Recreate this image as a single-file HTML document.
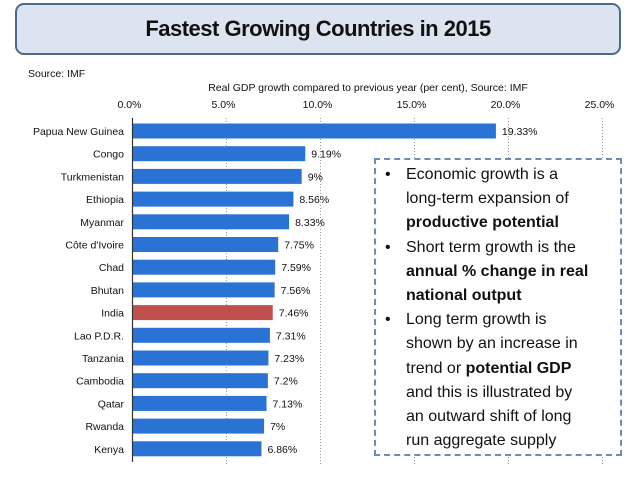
<!DOCTYPE html>
<html><head><meta charset="utf-8"><style>
body{margin:0;width:638px;height:479px;background:#fff;font-family:"Liberation Sans",sans-serif;overflow:hidden;position:relative}
#title{position:absolute;left:15px;top:3px;width:606px;height:52px;box-sizing:border-box;border:2px solid #4d6a8c;border-radius:9px;background:#dbe4f0;text-align:center;line-height:48px;font-size:22px;font-weight:bold;color:#111;letter-spacing:-0.5px}
#note{position:absolute;left:374px;top:158px;width:248px;height:298px;box-sizing:border-box;border:2px dashed #6b8db5;background:#fff;font-size:16px;line-height:24.2px;color:#111;padding:3px 4px 0 30px;white-space:nowrap}
#note div{position:relative}
#note div:before{content:"•";position:absolute;left:-21px}
</style></head><body>
<div id="title">Fastest Growing Countries in 2015</div>
<svg id="chart" width="638" height="479" style="position:absolute;left:0;top:0"></svg>
<div id="note">
<div>Economic growth is a<br>long-term expansion of<br><b>productive potential</b></div>
<div>Short term growth is the<br><b>annual % change in real<br>national output</b></div>
<div>Long term growth is<br>shown by an increase in<br>trend or <b>potential GDP</b><br>and this is illustrated by<br>an outward shift of long<br>run aggregate supply</div>
</div>
<script>
const categories=["Papua New Guinea","Congo","Turkmenistan","Ethiopia","Myanmar","Côte d'Ivoire","Chad","Bhutan","India","Lao P.D.R.","Tanzania","Cambodia","Qatar","Rwanda","Kenya"];
const values=[19.33,9.19,9,8.56,8.33,7.75,7.59,7.56,7.46,7.31,7.23,7.2,7.13,7,6.86];
const valueLabels=["19.33%","9.19%","9%","8.56%","8.33%","7.75%","7.59%","7.56%","7.46%","7.31%","7.23%","7.2%","7.13%","7%","6.86%"];
const ticks=[0,5,10,15,20,25];
const tickLabels=["0.0%","5.0%","10.0%","15.0%","20.0%","25.0%"];
const highlight="India";
const svg=document.getElementById('chart');const NS="http://www.w3.org/2000/svg";
const x=v=>132.5+v*18.8;
const y=i=>131+i*22.7;
function el(t,a,txt){const e=document.createElementNS(NS,t);for(const k in a)e.setAttribute(k,a[k]);if(txt!=null)e.textContent=txt;svg.appendChild(e);return e;}
let t=el('text',{x:28,y:77,'font-size':10.5,fill:'#111'},'Source: IMF');


t=el('text',{x:368,y:91,'font-size':10.5,fill:'#111','text-anchor':'middle'},'Real GDP growth compared to previous year (per cent), Source: IMF');


ticks.forEach((v,i)=>{
 if(v>0){const g=el('line',{x1:x(v),x2:x(v),y1:118,y2:464,stroke:'#999','stroke-dasharray':'1,2','stroke-width':1});
 
 }
 const l=el('text',{x:x(v)-3,y:108,'font-size':10.5,fill:'#111','text-anchor':'middle'},tickLabels[i]);
 
 
});
categories.forEach((c,i)=>{
 const b=el('rect',{x:x(0),y:y(i)-7.5,width:x(values[i])-x(0),height:15,fill:c===highlight?'#c0504d':'#2a72d4'});
 
 
 const l=el('text',{x:124,y:y(i)+4,'font-size':10.5,fill:'#111','text-anchor':'end'},c);
 
 
 const v=el('text',{x:x(values[i])+6,y:y(i)+4,'font-size':10.5,fill:'#111'},valueLabels[i]);
 
 
});
const ax=el('line',{x1:x(0),x2:x(0),y1:118,y2:462,stroke:'#333','stroke-width':1.2});


</script>
</body></html>
